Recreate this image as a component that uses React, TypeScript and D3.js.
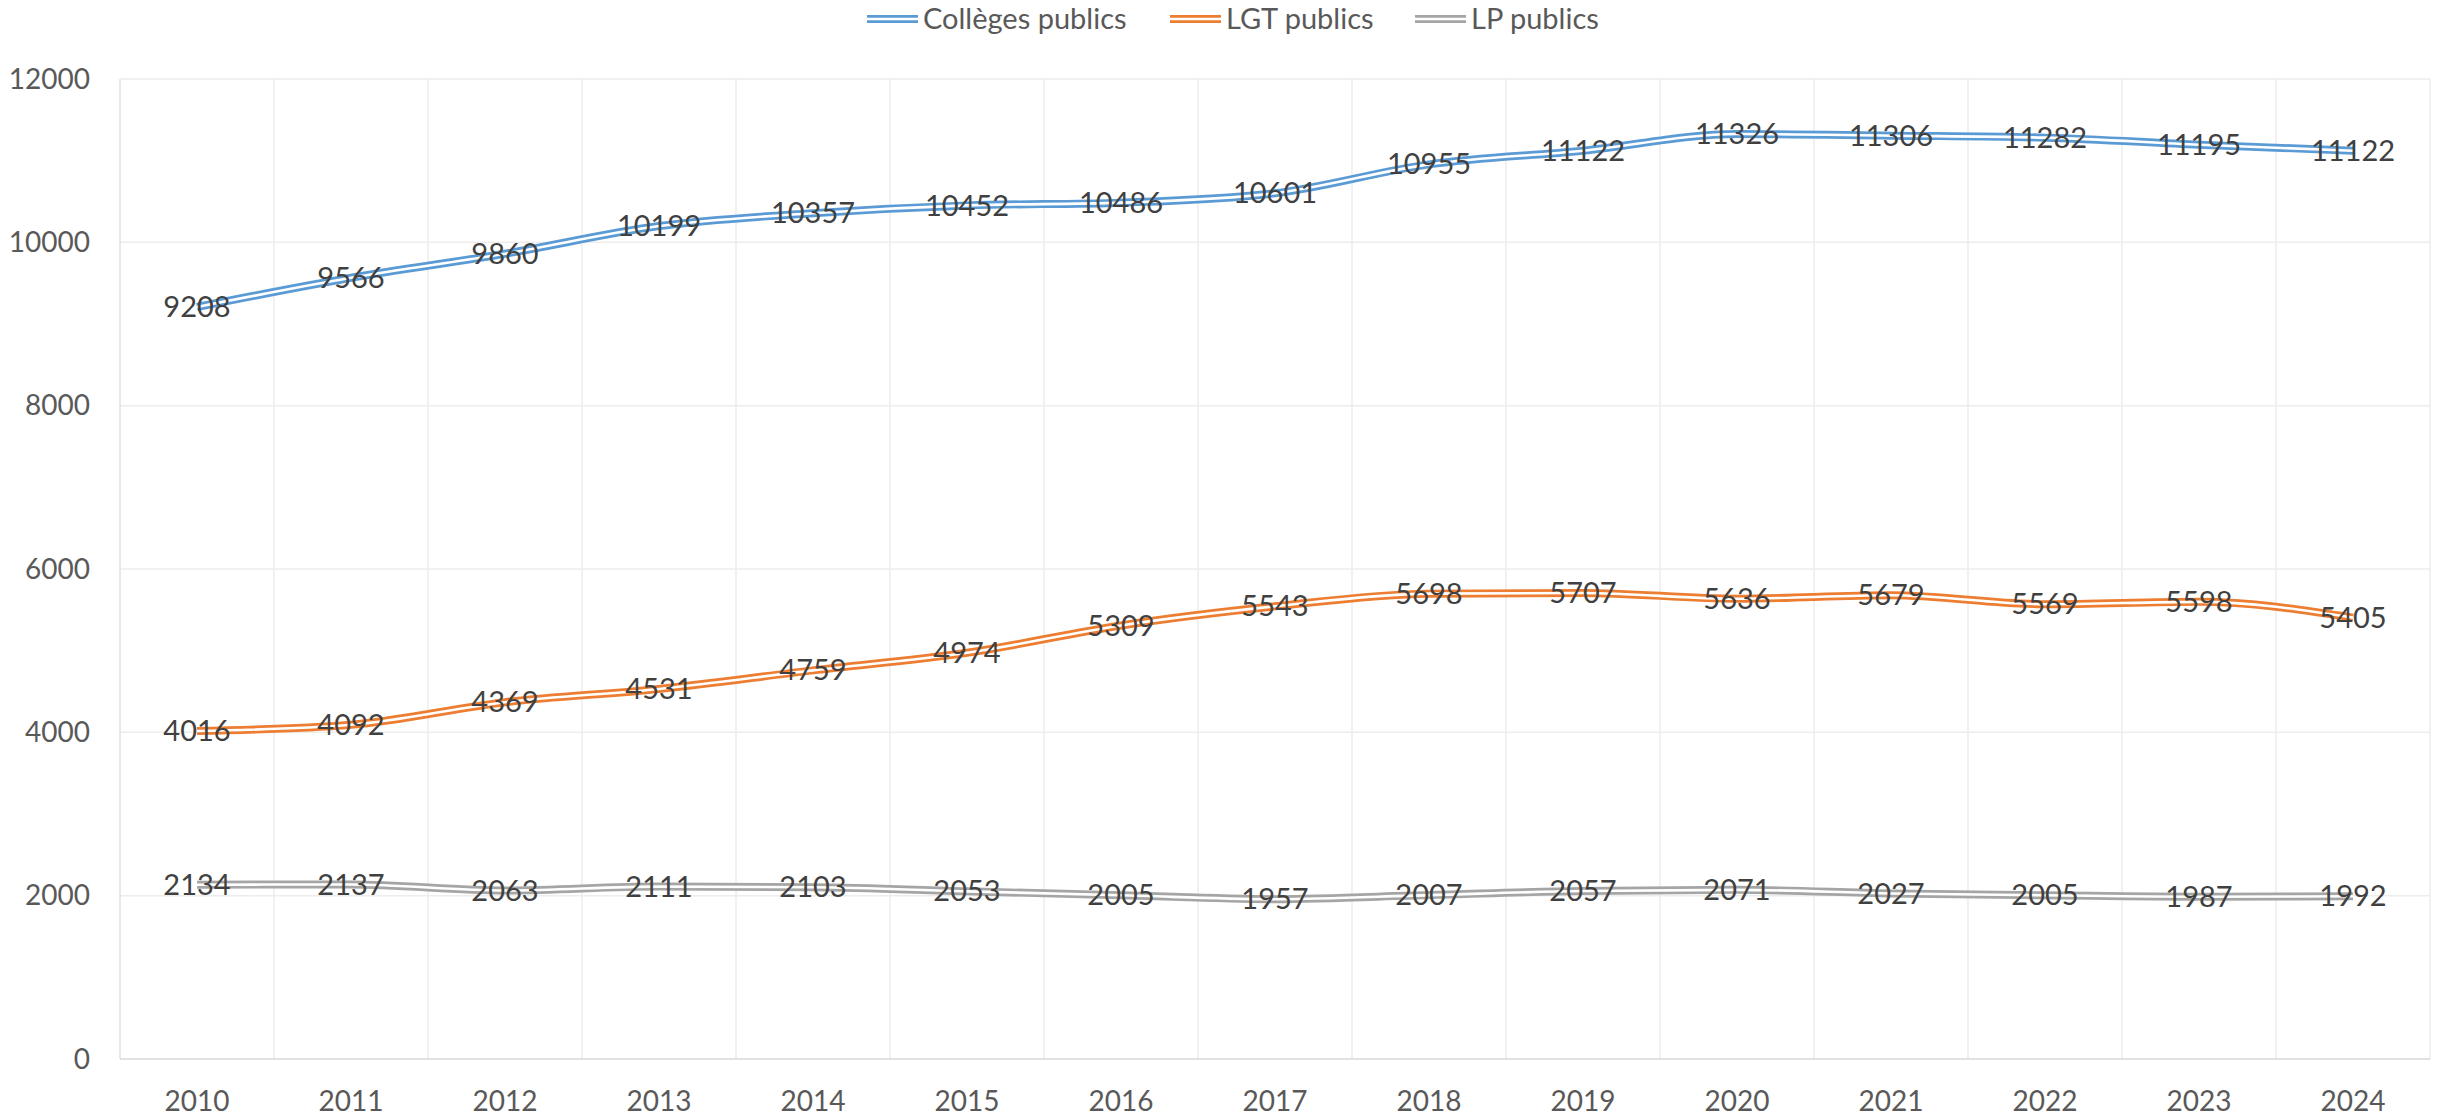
import React, { useEffect, useRef } from 'react';
import * as d3 from 'd3';

const years = ['2010', '2011', '2012', '2013', '2014', '2015', '2016', '2017', '2018', '2019', '2020', '2021', '2022', '2023', '2024'];
const colleges = [9208, 9566, 9860, 10199, 10357, 10452, 10486, 10601, 10955, 11122, 11326, 11306, 11282, 11195, 11122];
const lgt = [4016, 4092, 4369, 4531, 4759, 4974, 5309, 5543, 5698, 5707, 5636, 5679, 5569, 5598, 5405];
const lp = [2134, 2137, 2063, 2111, 2103, 2053, 2005, 1957, 2007, 2057, 2071, 2027, 2005, 1987, 1992];
const yTicks = [0, 2000, 4000, 6000, 8000, 10000, 12000];

const seriesList = [
  { name: 'Collèges publics', values: colleges, color: '#5B9BD5' },
  { name: 'LGT publics', values: lgt, color: '#ED7D31' },
  { name: 'LP publics', values: lp, color: '#A5A5A5' },
];

const FONT = 'Lato, "Open Sans", sans-serif';

const App: React.FC = () => {
  const svgRef = useRef<SVGSVGElement>(null);

  useEffect(() => {
    if (!svgRef.current) return;
    const width = 2447;
    const height = 1117;
    const margin = { top: 79, right: 17, bottom: 58, left: 120 };
    const innerW = width - margin.left - margin.right;
    const innerH = height - margin.top - margin.bottom;

    d3.select(svgRef.current).selectAll('*').remove();
    const root = d3.select(svgRef.current).attr('width', width).attr('height', height);
    root.append('rect').attr('width', width).attr('height', height).attr('fill', '#fff');

    const svg = root.append('g').attr('transform', `translate(${margin.left}, ${margin.top})`);

    const xScale = d3.scaleBand().domain(years).range([0, innerW]);
    const yScale = d3.scaleLinear().domain([0, 12000]).range([innerH, 0]);
    const cx = (y: string) => (xScale(y) || 0) + xScale.bandwidth() / 2;

    // horizontal gridlines
    svg
      .append('g')
      .selectAll('line')
      .data(yTicks.filter((t) => t > 0))
      .join('line')
      .attr('x1', 0)
      .attr('x2', innerW)
      .attr('y1', (d) => yScale(d))
      .attr('y2', (d) => yScale(d))
      .attr('stroke', '#EDEDED')
      .attr('stroke-width', 1.5);

    // vertical gridlines between categories
    svg
      .append('g')
      .selectAll('line')
      .data(years.slice(1))
      .join('line')
      .attr('x1', (d) => xScale(d) || 0)
      .attr('x2', (d) => xScale(d) || 0)
      .attr('y1', 0)
      .attr('y2', innerH)
      .attr('stroke', '#EDEDED')
      .attr('stroke-width', 1.5);

    svg
      .append('line')
      .attr('x1', innerW)
      .attr('x2', innerW)
      .attr('y1', 0)
      .attr('y2', innerH)
      .attr('stroke', '#EDEDED')
      .attr('stroke-width', 1.5);

    // axis lines
    svg
      .append('line')
      .attr('x1', 0)
      .attr('x2', 0)
      .attr('y1', 0)
      .attr('y2', innerH)
      .attr('stroke', '#E0E0E0')
      .attr('stroke-width', 1.5);
    svg
      .append('line')
      .attr('x1', 0)
      .attr('x2', innerW)
      .attr('y1', innerH)
      .attr('y2', innerH)
      .attr('stroke', '#D9D9D9')
      .attr('stroke-width', 1.5);

    // y tick labels
    svg
      .append('g')
      .selectAll('text')
      .data(yTicks)
      .join('text')
      .attr('x', -30)
      .attr('y', (d) => yScale(d))
      .attr('dy', '0.35em')
      .attr('text-anchor', 'end')
      .attr('font-family', FONT)
      .attr('font-size', 28)
      .attr('fill', '#595959')
      .text((d) => d);

    // x tick labels
    svg
      .append('g')
      .selectAll('text')
      .data(years)
      .join('text')
      .attr('x', (d) => cx(d))
      .attr('y', innerH + 42)
      .attr('dy', '0.35em')
      .attr('text-anchor', 'middle')
      .attr('font-family', FONT)
      .attr('font-size', 28)
      .attr('fill', '#595959')
      .text((d) => d);

    const line = d3
      .line<number>()
      .x((_, i) => cx(years[i]))
      .y((d) => yScale(d))
      .curve(d3.curveMonotoneX);

    seriesList.forEach((s) => {
      svg
        .append('path')
        .datum(s.values)
        .attr('fill', 'none')
        .attr('stroke', s.color)
        .attr('stroke-width', 8)
        .attr('stroke-linejoin', 'round')
        .attr('d', line);
      svg
        .append('path')
        .datum(s.values)
        .attr('fill', 'none')
        .attr('stroke', '#fff')
        .attr('stroke-width', 2.6)
        .attr('stroke-linejoin', 'round')
        .attr('d', line);
    });

    // data labels, centered on points
    seriesList.forEach((s) => {
      svg
        .append('g')
        .selectAll('text')
        .data(s.values)
        .join('text')
        .attr('x', (_, i) => cx(years[i]))
        .attr('y', (d) => yScale(d))
        .attr('dy', '0.35em')
        .attr('text-anchor', 'middle')
        .attr('font-family', FONT)
        .attr('font-size', 29)
        .attr('fill', '#404040')
        .text((d) => d);
    });

    // legend
    const legendX = [867, 1170, 1415];
    const legend = root.append('g').attr('transform', 'translate(0, 19)');
    seriesList.forEach((s, i) => {
      const g = legend.append('g').attr('transform', `translate(${legendX[i]}, 0)`);
      g.append('line').attr('x1', 0).attr('x2', 51).attr('y1', 0).attr('y2', 0).attr('stroke', s.color).attr('stroke-width', 8);
      g.append('line').attr('x1', 0).attr('x2', 51).attr('y1', 0).attr('y2', 0).attr('stroke', '#fff').attr('stroke-width', 2.6);
      g.append('text')
        .attr('x', 56)
        .attr('y', 0)
        .attr('dy', '0.35em')
        .attr('font-family', FONT)
        .attr('font-size', 29)
        .attr('fill', '#595959')
        .text(s.name);
    });
  }, []);

  return (
    <div style={{ position: 'absolute', left: 0, top: 0 }}>
      <svg ref={svgRef} style={{ display: 'block' }}></svg>
    </div>
  );
};

export default App;
